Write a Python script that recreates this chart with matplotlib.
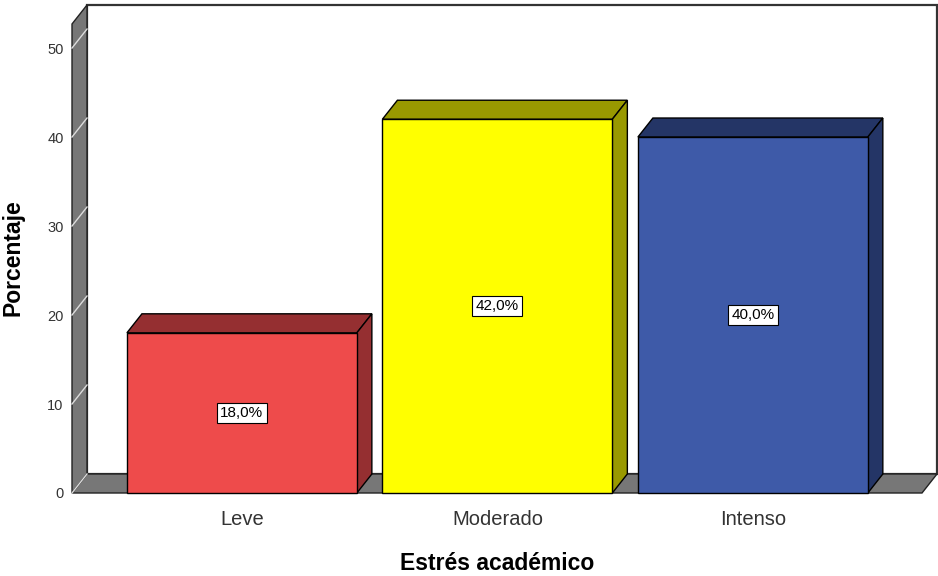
import matplotlib
matplotlib.use("Agg")
import matplotlib.pyplot as plt
from matplotlib.patches import Polygon, Rectangle
import numpy as np

plt.rcParams['font.family'] = ['Liberation Sans', 'DejaVu Sans']

categories = ["Leve", "Moderado", "Intenso"]
values = [18.0, 42.0, 40.0]
yticks = [0, 10, 20, 30, 40, 50]
front_colors = ["#EE4B4B", "#FFFF00", "#3E5AA8"]
side_colors = ["#952F31", "#999900", "#243566"]

W, H = 938, 576
fig = plt.figure(figsize=(W / 100, H / 100), dpi=100)
ax = fig.add_axes([72 / W, 83 / H, 850 / W, 469 / H])
ax.set_xlim(-0.665, 2.662)
ax.set_ylim(0, 52.7)
for s in ax.spines.values():
    s.set_visible(False)
ax.patch.set_visible(False)

# depth offset (pixels) converted to data units
p0 = ax.transData.transform((0, 0))
dxd, dyd = ax.transData.inverted().transform(p0 + np.array([15.0, 19.0]))
x0, x1 = ax.get_xlim()
y0, ytop = ax.get_ylim()

gray = "#777777"
edge = "#222222"

# back wall
ax.add_patch(Rectangle((x0 + dxd, y0 + dyd), x1 - x0, ytop - y0, fc="white",
                       ec="#333333", lw=1.6, clip_on=False, zorder=1))
# floor
ax.add_patch(Polygon([(x0, 0), (x1, 0), (x1 + dxd, dyd), (x0 + dxd, dyd)],
                     closed=True, fc=gray, ec=edge, lw=1.0, clip_on=False, zorder=2))
# left wall
ax.add_patch(Polygon([(x0, 0), (x0, ytop), (x0 + dxd, ytop + dyd), (x0 + dxd, dyd)],
                     closed=True, fc=gray, ec=edge, lw=1.0, clip_on=False, zorder=2))
for t in yticks:
    ax.plot([x0, x0 + dxd], [t, t + dyd], color="#dddddd", lw=1.0,
            clip_on=False, zorder=3)

w = 0.90
for i, (v, fcol, scol) in enumerate(zip(values, front_colors, side_colors)):
    l, r = i - w / 2, i + w / 2
    ax.add_patch(Polygon([(l, v), (r, v), (r + dxd, v + dyd), (l + dxd, v + dyd)],
                         closed=True, fc=scol, ec="black", lw=1.0, clip_on=False, zorder=4))
    ax.add_patch(Polygon([(r, 0), (r, v), (r + dxd, v + dyd), (r + dxd, dyd)],
                         closed=True, fc=scol, ec="black", lw=1.0, clip_on=False, zorder=4))
    ax.add_patch(Rectangle((l, 0), w, v, fc=fcol, ec="black", lw=1.0,
                           clip_on=False, zorder=5))
    ax.text(i, v / 2, f"{v:.1f}%".replace(".", ","), ha="center", va="center",
            fontsize=11, color="black", zorder=6,
            bbox=dict(boxstyle="square,pad=0.22", fc="white", ec="black", lw=0.8))

ax.set_yticks(yticks)
ax.set_yticklabels([str(t) for t in yticks], fontsize=10.5, color="#333333")
ax.set_xticks(range(len(categories)))
ax.set_xticklabels(categories, fontsize=14.5, color="#333333")
ax.tick_params(axis="y", length=0, pad=6.0)
ax.tick_params(axis="x", length=0, pad=12)

ax.set_xlabel("Estrés académico", fontsize=16.5, fontweight="bold", labelpad=17)
fig.text(13 / W, 1 - 258 / H, "Porcentaje", rotation=90, ha="center", va="center",
         fontsize=16.5, fontweight="bold")

fig.savefig("out.png", dpi=100)
